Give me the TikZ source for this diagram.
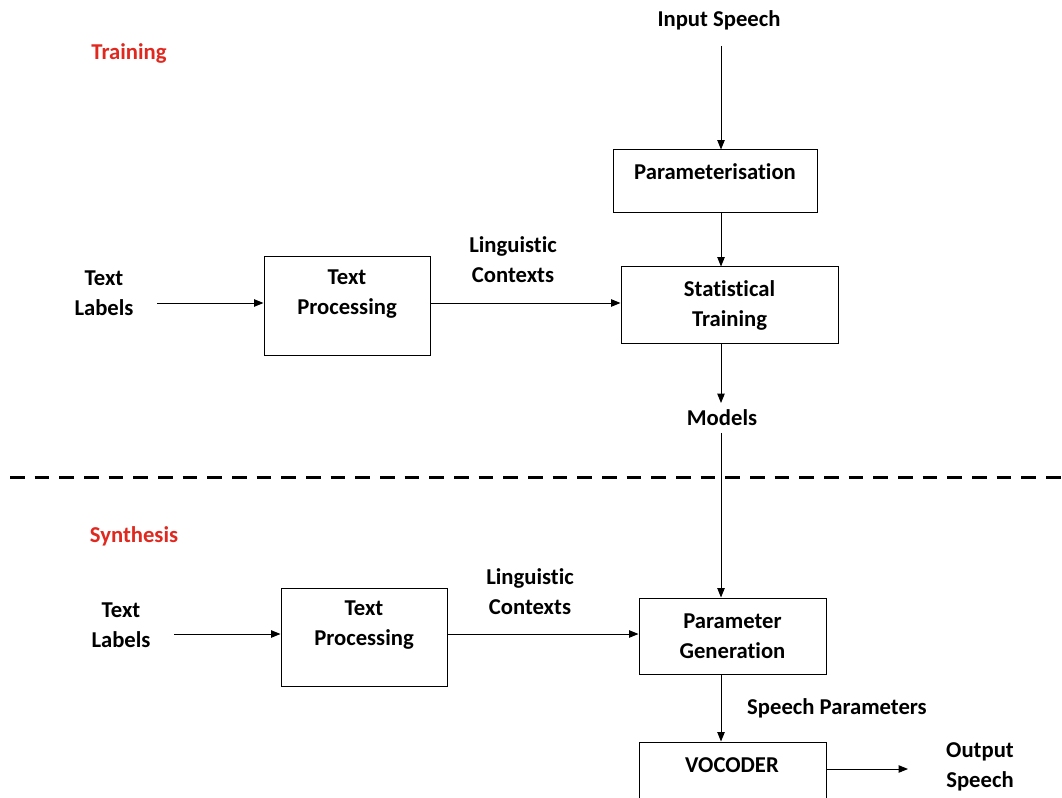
\documentclass[tikz,border=0pt]{standalone}
\usepackage{fontspec}
\setmainfont{Carlito}[Ligatures=NoCommon]
\usetikzlibrary{arrows.meta,positioning}
\definecolor{stagered}{RGB}{224,40,30}

\begin{document}
\begin{tikzpicture}[x=0.75pt,y=-0.75pt,
  every node/.style={font=\fontsize{17}{22.5}\selectfont\bfseries, align=center, inner sep=0pt},
  blk/.style={draw, line width=0.75pt},
  flow/.style={-{Triangle[length=7pt,width=5.5pt]}, line width=0.75pt},
  stage/.style={text=stagered}]
\clip (0,0) rectangle (1062,798);
\coordinate (spine) at (721,0);

% training
\node[stage] (train) at (129,53) {Training};
\node (speechin) at (719,20) {Input Speech};
\node[blk, minimum width=153pt, minimum height=47.25pt] (param) at (715,181.5) {};
\node (paramtxt) at (715,172) {Parameterisation};
\node[blk, minimum width=162.75pt, minimum height=57pt] (stat) at (729.5,305) {Statistical\\Training};
\node (lab1) at (104,293) {Text\\Labels};
\node[blk, minimum width=124.5pt, minimum height=73.5pt] (tproc1) at (347,306) {};
\node (tp1txt) at (347,294) {Text\\Processing};
\node (ling1) at (513,260) {Linguistic\\Contexts};
\node (models) at (722,418) {Models};
\coordinate (in1) at (157,303);

\draw[flow] ([yshift=-12pt]speechin.south -| spine) -- (spine |- param.north);
\draw[flow] (spine |- param.south) -- (spine |- stat.north);
\draw[flow] (in1) -- (in1 -| tproc1.west);
\draw[flow] (in1 -| tproc1.east) -- (in1 -| stat.west);
\draw[flow] (spine |- stat.south) -- ([yshift=5pt]spine |- models.north);

% split
\coordinate (cutl) at (10,477);
\coordinate (cutr) at (1062,477);
\draw[line width=2.25pt, dash pattern=on 11pt off 7.5pt] (cutl) -- (cutr);

% synthesis
\node[stage] (synth) at (134,536) {Synthesis};
\node (lab2) at (121,625) {Text\\Labels};
\node[blk, minimum width=124.5pt, minimum height=73.5pt] (tproc2) at (364,637) {};
\node (tp2txt) at (364,625) {Text\\Processing};
\node (ling2) at (530,592) {Linguistic\\Contexts};
\node[blk, minimum width=140.25pt, minimum height=57pt] (gen) at (732.5,636) {Parameter\\Generation};
\node (sptxt) at (837,708) {Speech Parameters};
\node[blk, minimum width=140.25pt, minimum height=66pt] (vocoder) at (732.5,786) {};
\node (voctxt) at (732,765) {VOCODER};
\node (outsp) at (980,767) {Output\\Speech};
\coordinate (in2) at (174,634);
\coordinate (out) at (908,769);

\draw[flow] ([yshift=-5pt]spine |- models.south) -- (spine |- gen.north);
\draw[flow] (in2) -- (in2 -| tproc2.west);
\draw[flow] (in2 -| tproc2.east) -- (in2 -| gen.west);
\draw[flow] (spine |- gen.south) -- (spine |- vocoder.north);
\draw[flow] (out -| vocoder.east) -- (out);
\end{tikzpicture}
\end{document}
